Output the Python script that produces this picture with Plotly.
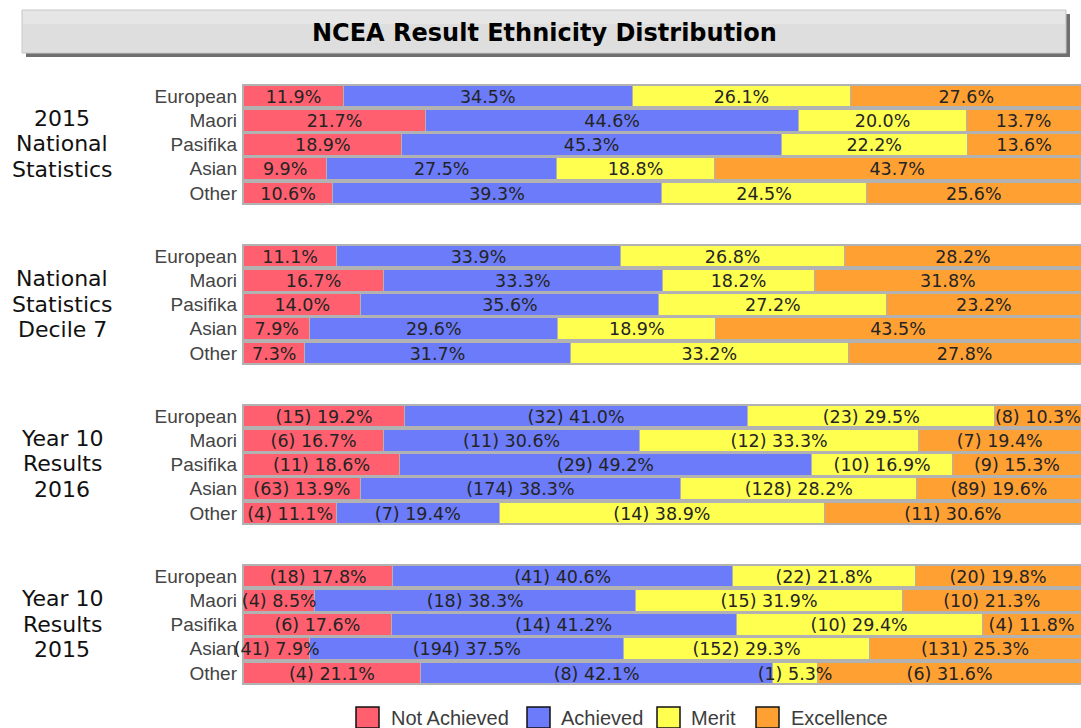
import plotly.graph_objects as go

# ---------------- data ----------------
ethnicities = ["European", "Maori", "Pasifika", "Asian", "Other"]
levels = ["Not Achieved", "Achieved", "Merit", "Excellence"]

group_names = [
    ["2015", "National", "Statistics"],
    ["National", "Statistics", "Decile 7"],
    ["Year 10", "Results", "2016"],
    ["Year 10", "Results", "2015"],
]

# percentages: one row per ethnicity, columns = levels
nat2015_pct = [
    [11.9, 34.5, 26.1, 27.6],
    [21.7, 44.6, 20.0, 13.7],
    [18.9, 45.3, 22.2, 13.6],
    [9.9, 27.5, 18.8, 43.7],
    [10.6, 39.3, 24.5, 25.6],
]
decile7_pct = [
    [11.1, 33.9, 26.8, 28.2],
    [16.7, 33.3, 18.2, 31.8],
    [14.0, 35.6, 27.2, 23.2],
    [7.9, 29.6, 18.9, 43.5],
    [7.3, 31.7, 33.2, 27.8],
]
y10_2016_pct = [
    [19.2, 41.0, 29.5, 10.3],
    [16.7, 30.6, 33.3, 19.4],
    [18.6, 49.2, 16.9, 15.3],
    [13.9, 38.3, 28.2, 19.6],
    [11.1, 19.4, 38.9, 30.6],
]
y10_2016_cnt = [
    [15, 32, 23, 8],
    [6, 11, 12, 7],
    [11, 29, 10, 9],
    [63, 174, 128, 89],
    [4, 7, 14, 11],
]
y10_2015_pct = [
    [17.8, 40.6, 21.8, 19.8],
    [8.5, 38.3, 31.9, 21.3],
    [17.6, 41.2, 29.4, 11.8],
    [7.9, 37.5, 29.3, 25.3],
    [21.1, 42.1, 5.3, 31.6],
]
y10_2015_cnt = [
    [18, 41, 22, 20],
    [4, 18, 15, 10],
    [6, 14, 10, 4],
    [41, 194, 152, 131],
    [4, 8, 1, 6],
]

groups_pct = [nat2015_pct, decile7_pct, y10_2016_pct, y10_2015_pct]
groups_cnt = [None, None, y10_2016_cnt, y10_2015_cnt]

# ---------------- style ----------------
colors = ["#FF5F6E", "#6B7BFA", "#FFFF50", "#FFA033"]
frame_gray = "#B2B2B2"
W, H = 1081, 728
X_LEFT = 242
GROUP_TOP0 = 84
GROUP_STEP = 160
ROW_PX = 24
TEXT_DROP = 0.1  # label baseline nudge (in row units)


def px_x(p):
    return p / W


def px_y(p):
    return 1 - p / H


fig = go.Figure()
layout_axes = {}
row_pos = list(range(len(ethnicities)))

for g, pct in enumerate(groups_pct):
    cnt = groups_cnt[g]
    xa = "x" if g == 0 else f"x{g + 1}"
    ya = "y" if g == 0 else f"y{g + 1}"
    for li, lvl in enumerate(levels):
        vals = [row[li] for row in pct]
        fig.add_trace(go.Bar(
            x=vals, y=row_pos, orientation="h", name=lvl,
            marker=dict(color=colors[li], line=dict(color=frame_gray, width=1)),
            xaxis=xa, yaxis=ya, showlegend=False, hoverinfo="skip",
        ))
    # labels on top of all bars
    tx, ty, tt = [], [], []
    for ri, row in enumerate(pct):
        cum = 0
        for li, v in enumerate(row):
            tx.append(cum + v / 2)
            ty.append(row_pos[ri] + TEXT_DROP)
            if cnt is None:
                tt.append(f"{v:.1f}%")
            else:
                tt.append(f"({cnt[ri][li]}) {v:.1f}%")
            cum += v
    fig.add_trace(go.Scatter(
        x=tx, y=ty, text=tt, mode="text", textposition="middle center",
        textfont=dict(family="DejaVu Sans", size=17.5, color="#242424"),
        xaxis=xa, yaxis=ya, showlegend=False, hoverinfo="skip", cliponaxis=False,
    ))

    top = GROUP_TOP0 + GROUP_STEP * g
    bot = top + ROW_PX * len(ethnicities) + 1
    xkey = "xaxis" if g == 0 else f"xaxis{g + 1}"
    ykey = "yaxis" if g == 0 else f"yaxis{g + 1}"
    layout_axes[xkey] = dict(domain=[px_x(X_LEFT), 1], range=[-0.2, 100], visible=False,
                             anchor=ya, fixedrange=True)
    layout_axes[ykey] = dict(domain=[px_y(bot), px_y(top)], anchor=xa,
                             range=[len(ethnicities) - 0.5, -0.5],
                             tickmode="array", tickvals=row_pos, ticktext=ethnicities,
                             showgrid=False, zeroline=False,
                             showline=False, ticks="", ticklabelstandoff=4,
                             tickfont=dict(family="Liberation Sans", size=19, color="#444444"),
                             fixedrange=True)

    # group label
    center = top + ROW_PX * 2.5
    for k, line in enumerate(group_names[g]):
        fig.add_annotation(
            x=px_x(62), y=px_y(center + (k - 1) * 25.5), xref="paper", yref="paper",
            text=line, showarrow=False, xanchor="center", yanchor="middle",
            font=dict(family="DejaVu Sans", size=22, color="#111111"),
        )

shapes = []
# title box with shadow
shapes.append(dict(type="rect", xref="paper", yref="paper",
                   x0=px_x(26), x1=px_x(1070), y0=px_y(57), y1=px_y(14),
                   fillcolor="#6f6f6f", line=dict(width=0), layer="below"))
shapes.append(dict(type="rect", xref="paper", yref="paper",
                   x0=px_x(22), x1=px_x(1066), y0=px_y(53), y1=px_y(10),
                   fillcolor="#DEDEDE", line=dict(color="#c9c9c9", width=1), layer="below"))
shapes.append(dict(type="rect", xref="paper", yref="paper",
                   x0=px_x(23), x1=px_x(1065), y0=px_y(24), y1=px_y(11),
                   fillcolor="#E6E6E6", line=dict(width=0), layer="below"))
fig.add_annotation(x=px_x(544), y=px_y(33), xref="paper", yref="paper",
                   text="<b>NCEA Result Ethnicity Distribution</b>", showarrow=False,
                   xanchor="center", yanchor="middle",
                   font=dict(family="DejaVu Sans", size=24, color="#000000"))

# legend
leg_sq_x = [356, 527, 657, 756]
leg_tx_x = [389, 559, 689, 789]
for i, lvl in enumerate(levels):
    shapes.append(dict(type="rect", xref="paper", yref="paper",
                       x0=px_x(leg_sq_x[i]), x1=px_x(leg_sq_x[i] + 23),
                       y0=px_y(728), y1=px_y(707),
                       fillcolor=colors[i], line=dict(color="#111111", width=1.5)))
    fig.add_annotation(x=px_x(leg_tx_x[i]), y=px_y(718), xref="paper", yref="paper",
                       text=lvl, showarrow=False, xanchor="left", yanchor="middle",
                       font=dict(family="Liberation Sans", size=20, color="#3c3c3c"))

fig.update_layout(
    width=W, height=H, margin=dict(l=0, r=0, t=0, b=0),
    barmode="stack", bargap=0.1,
    paper_bgcolor="white", plot_bgcolor=frame_gray,
    showlegend=False, shapes=shapes,
    **layout_axes,
)

fig.write_html(
    "out.html",
    config={"displayModeBar": False},
    post_script="document.body.style.margin='0';document.body.style.overflow='hidden';",
)
